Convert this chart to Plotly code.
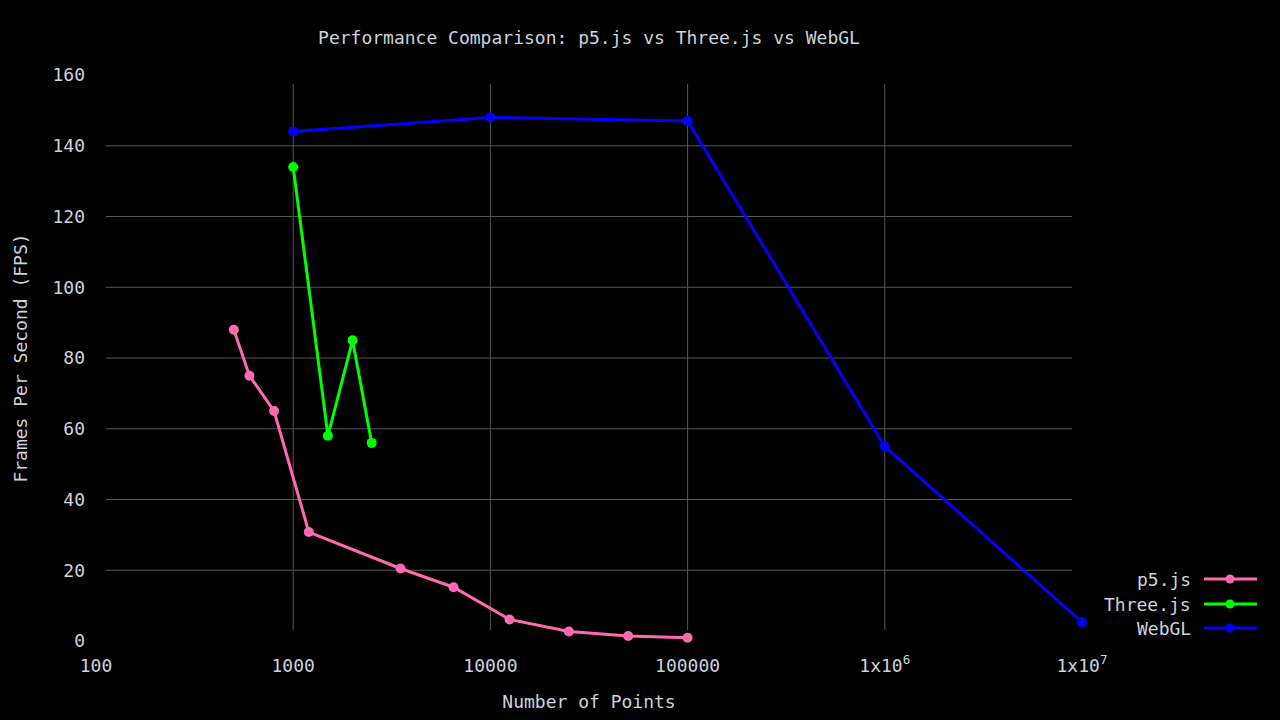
import plotly.graph_objects as go

# ---- data ----
p5_x = [500, 600, 800, 1200, 3500, 6500, 12500, 25000, 50000, 100000]
p5_y = [88, 75, 65, 30.8, 20.5, 15.2, 6.1, 2.7, 1.4, 0.9]
three_x = [1000, 1500, 2000, 2500]
three_y = [134, 58, 85, 56]
webgl_x = [1000, 10000, 100000, 1000000, 10000000]
webgl_y = [144, 148, 147, 55, 5.3]

series_names = ["p5.js", "Three.js", "WebGL"]
series_colors = ["#ff69b4", "#00ff00", "#0000ff"]

x_tickvals = [100, 1000, 10000, 100000, 1000000, 10000000]
x_ticktext = ["100", "1000", "10000", "100000", "1x10<sup>6</sup>", "1x10<sup>7</sup>"]
y_tickvals = [0, 20, 40, 60, 80, 100, 120, 140, 160]

FONT = "DejaVu Sans Mono"
TXT = "#cbd3dd"
GRID = "#555555"

# layout geometry (pixels)
W, H = 1280, 720
ML, MR, MT, MB = 96, 198, 75, 79
PW, PH = W - ML - MR, H - MT - MB

def px_to_paper_x(px):
    return (px - ML) / PW

def py_to_paper_y(py):
    return (H - MB - py) / PH

fig = go.Figure()
for xs, ys, name, col in zip([p5_x, three_x, webgl_x], [p5_y, three_y, webgl_y],
                             series_names, series_colors):
    fig.add_trace(go.Scatter(
        x=xs, y=ys, name=name, mode="lines+markers",
        line=dict(color=col, width=3),
        marker=dict(color=col, size=10),
        cliponaxis=False,
        showlegend=False,
    ))

shapes = []
# gridlines (slightly inset like the reference)
for v in y_tickvals[1:-1]:
    shapes.append(dict(type="line", xref="paper", yref="y",
                       x0=px_to_paper_x(106), x1=px_to_paper_x(1072), y0=v, y1=v,
                       line=dict(color=GRID, width=1), layer="below"))
for v in x_tickvals[1:-1]:
    shapes.append(dict(type="line", xref="x", yref="paper",
                       x0=v, x1=v, y0=py_to_paper_y(630), y1=py_to_paper_y(84),
                       line=dict(color=GRID, width=1), layer="below"))

# custom legend: text on the left, sample on the right
annotations = []
legend_rows = [579, 604, 628]
for name, col, ry in zip(series_names, series_colors, legend_rows):
    yp = py_to_paper_y(ry)
    shapes.append(dict(type="line", xref="paper", yref="paper",
                       x0=px_to_paper_x(1204), x1=px_to_paper_x(1257), y0=yp, y1=yp,
                       line=dict(color=col, width=3)))
    shapes.append(dict(type="circle", xref="paper", yref="paper",
                       xsizemode="pixel", ysizemode="pixel",
                       xanchor=px_to_paper_x(1230), yanchor=yp,
                       x0=-4.5, x1=4.5, y0=-4.5, y1=4.5,
                       fillcolor=col, line=dict(color=col, width=0)))
    annotations.append(dict(text=name, xref="paper", yref="paper",
                            x=px_to_paper_x(1193), y=yp, xanchor="right", yanchor="middle",
                            showarrow=False, font=dict(family=FONT, size=18, color=TXT)))

fig.update_layout(
    width=W, height=H,
    paper_bgcolor="#000000", plot_bgcolor="#000000",
    margin=dict(l=ML, r=MR, t=MT, b=MB, autoexpand=False),
    font=dict(family=FONT, size=18, color=TXT),
    title=dict(text="Performance Comparison: p5.js vs Three.js vs WebGL",
               x=0.5, xref="paper", xanchor="center",
               y=1 - 38 / H, yref="container", yanchor="middle",
               font=dict(family=FONT, size=18, color=TXT)),
    xaxis=dict(type="log", range=[2, 7], tickvals=x_tickvals, ticktext=x_ticktext,
               showgrid=False, zeroline=False, showline=False, ticks="",
               automargin=False, ticklabelstandoff=12,
               title=dict(text="Number of Points", standoff=20,
                          font=dict(family=FONT, size=18, color=TXT)),
               tickfont=dict(family=FONT, size=18, color=TXT)),
    yaxis=dict(range=[0, 160], tickvals=y_tickvals,
               showgrid=False, zeroline=False, showline=False, ticks="",
               automargin=False, ticklabelstandoff=10,
               title=dict(text="Frames Per Second (FPS)", standoff=20,
                          font=dict(family=FONT, size=18, color=TXT)),
               tickfont=dict(family=FONT, size=18, color=TXT)),
    shapes=shapes,
    annotations=annotations,
    showlegend=False,
)

fig.write_html("out.html",
               config={"displayModeBar": False},
               post_script="document.body.style.margin='0';document.body.style.background='#000';")
